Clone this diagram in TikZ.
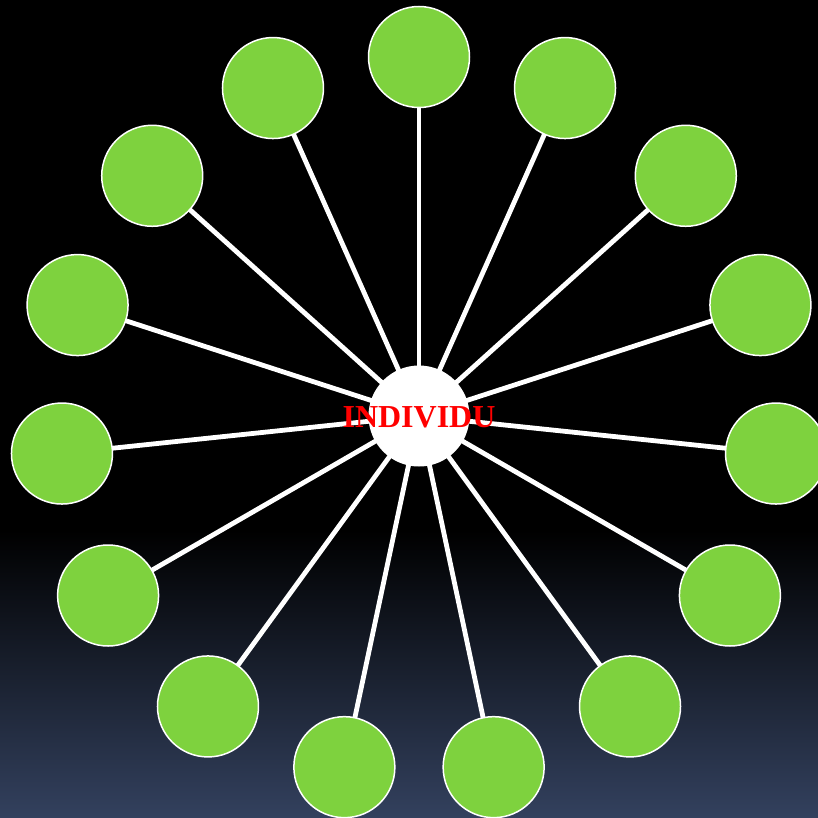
\documentclass[tikz,border=0pt]{standalone}
\usepackage{fontspec}
\setmainfont{Liberation Serif}
\usetikzlibrary{calc}
\definecolor{leaf}{RGB}{126,210,62}
\definecolor{navy}{RGB}{52,66,96}
\definecolor{txtred}{RGB}{255,0,0}
\begin{document}
\begin{tikzpicture}[x=1pt,y=-1pt,
  leafnode/.style={circle,fill=leaf,draw=white,line width=1.5pt,minimum size=101pt,inner sep=0pt},
  hub/.style={circle,fill=white,minimum size=101pt,inner sep=0pt},
  hubtext/.style={font=\bfseries\fontsize{32}{34}\selectfont,text=txtred,inner sep=0pt},
  spoke/.style={draw=white,line width=4.8pt}]
\useasboundingbox (0,0) rectangle (817,818);
\begin{scope}
\clip (-1,-1) rectangle (818,819);
\fill[black] (-6,-6) rectangle (823,824);
\shade[top color=black,bottom color=navy] (-6,530) rectangle (823,824);
\coordinate (c) at (419,416);
\foreach \i in {0,...,14}{
  \pgfmathsetmacro{\ang}{24*\i}
  \coordinate (p\i) at ($(c)+({359*sin(\ang)},{-359*cos(\ang)})$);
}
\foreach \i in {0,...,14}{
  \draw[spoke] (c) -- (p\i);
}
\foreach \i in {0,...,14}{
  \node[leafnode] (n\i) at (p\i) {};
}
\node[hub] (center) at (c) {};
\node[hubtext] (label) at (419,417) {INDIVIDU};
\end{scope}
\end{tikzpicture}
\end{document}
